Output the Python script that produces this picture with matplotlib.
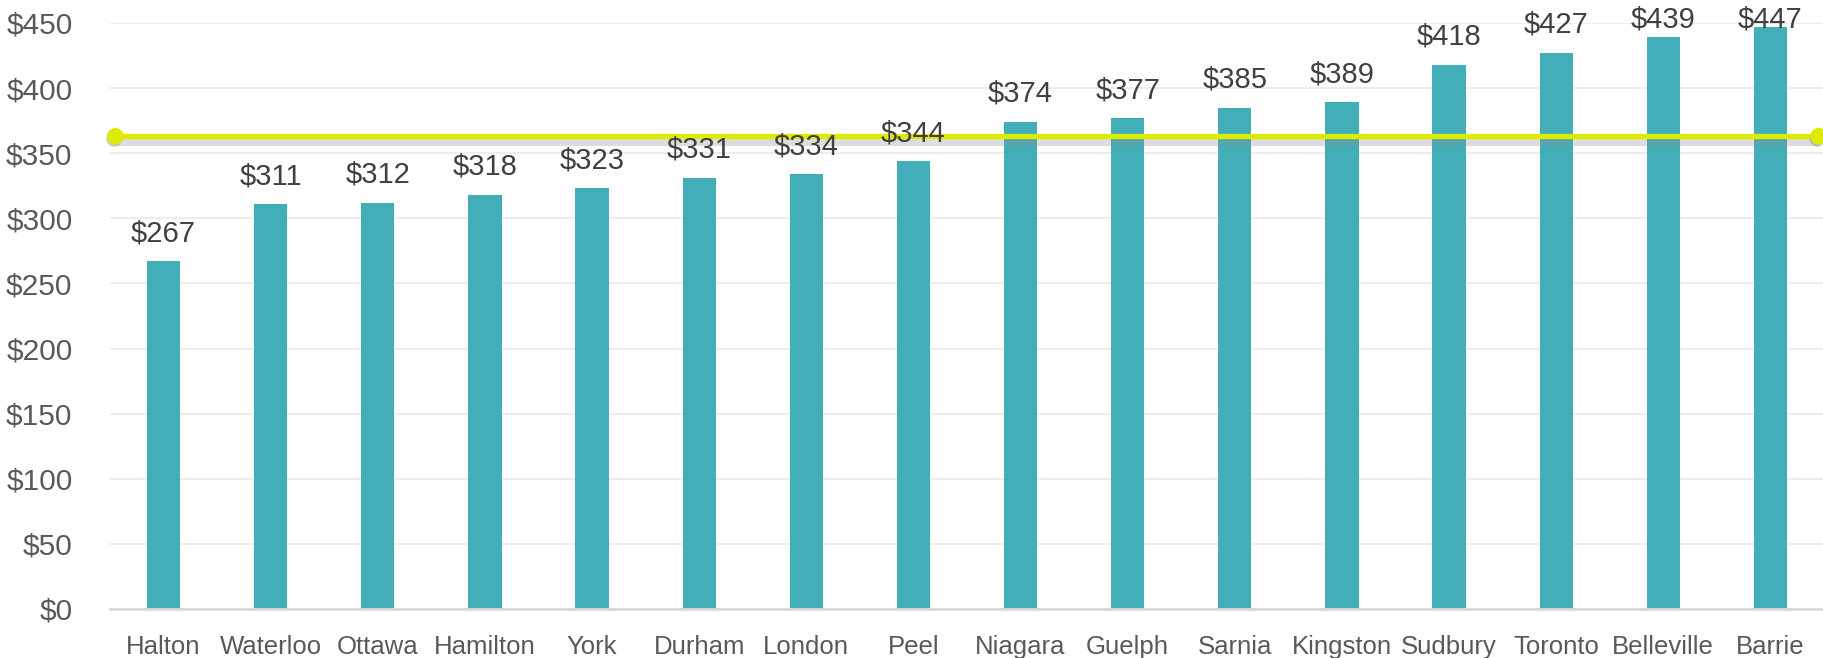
import matplotlib
matplotlib.use("Agg")
import matplotlib.pyplot as plt
import matplotlib.patheffects as pe

categories = ["Halton", "Waterloo", "Ottawa", "Hamilton", "York", "Durham", "London", "Peel",
              "Niagara", "Guelph", "Sarnia", "Kingston", "Sudbury", "Toronto", "Belleville", "Barrie"]
values = [267, 311, 312, 318, 323, 331, 334, 344, 374, 377, 385, 389, 418, 427, 439, 447]
average = 363
yticks = [0, 50, 100, 150, 200, 250, 300, 350, 400, 450]

BAR = "#42AEB8"
LINE = "#DCEB00"

W, H = 1824, 658
fig = plt.figure(figsize=(W / 100, H / 100), dpi=100)
ax = fig.add_axes([110 / W, 1 - 609 / H, 1 - 110 / W, (609 - 23) / H])

x = list(range(len(categories)))
ax.bar(x, values, width=0.31, color=BAR, zorder=3)

ax.set_xlim(-0.5, len(categories) - 0.5)
ax.set_ylim(0, 450)

# data labels: above the bar, but pushed down to stay inside the figure
fig.canvas.draw()
for xi, v in zip(x, values):
    px, py = ax.transData.transform((xi, v))
    label_bottom = min(py + 20, H - 28)
    fig.text(px / W, label_bottom / H, f"${v}", ha="center", va="baseline",
             fontsize=21, color="#404040", family="Liberation Sans", zorder=5)

# average line with soft shadow
lx = [-0.45, len(categories) - 0.55]
ly = [average, average]
shadow = [pe.SimpleLineShadow(offset=(0, -3), shadow_color="#909090", alpha=0.3, linewidth=8),
          pe.Normal()]
ax.plot(lx, ly, color=LINE, lw=3.8, zorder=4, clip_on=False,
        path_effects=shadow, solid_capstyle="butt")
ax.plot(lx, ly, ls="none", marker="o", ms=11, color=LINE, zorder=6, clip_on=False,
        path_effects=[pe.SimplePatchShadow(offset=(-1, -2), shadow_rgbFace="#808080", alpha=0.4), pe.Normal()])

ax.set_yticks(yticks)
ax.set_yticklabels([f"${t}" for t in yticks], fontsize=21.5, color="#595959", family="Liberation Sans")
ax.set_xticks(x)
ax.set_xticklabels(categories, fontsize=18.5, color="#595959", family="Liberation Sans")
ax.tick_params(axis="both", length=0)
ax.tick_params(axis="y", pad=27)
ax.tick_params(axis="x", pad=19)

ax.grid(axis="y", color="#EDEDED", lw=1.5, zorder=0)
for s in ["top", "right", "left"]:
    ax.spines[s].set_visible(False)
ax.spines["bottom"].set_color("#D9D9D9")
ax.spines["bottom"].set_linewidth(2)
ax.spines["bottom"].set_zorder(4)

fig.savefig("out.png", dpi=100)
